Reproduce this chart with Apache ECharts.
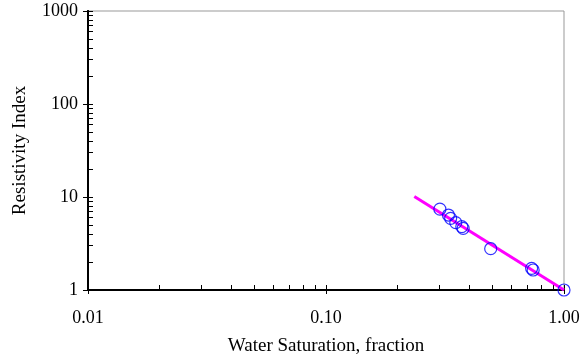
<!DOCTYPE html>
<html>
<head>
<meta charset="utf-8">
<script src="https://cdn.jsdelivr.net/npm/echarts@6/dist/echarts.min.js"></script>
<style>
  html, body { margin: 0; padding: 0; background: #fff; }
  #chart { width: 583px; height: 357px; }
</style>
</head>
<body>
<div id="chart"></div>
<script>
// measured points (water saturation vs resistivity index)
const swData = [0.301, 0.327, 0.334, 0.351, 0.372, 0.377, 0.492, 0.731, 0.742, 1.0];
const riData = [7.4, 6.4, 5.9, 5.3, 4.8, 4.6, 2.78, 1.71, 1.64, 1.0];

// fitted line end points
const fitSw = [0.235, 1.0];
const fitRi = [10.1, 1.0];

// tick labels
const xMajor = [0.01, 0.1, 1];
const yMajor = [1, 10, 100, 1000];

// minor ticks 2..9 in every decade
function minors(majors) {
  const out = [];
  for (let i = 0; i < majors.length - 1; i++) {
    for (let k = 2; k <= 9; k++) out.push(+(majors[i] * k).toPrecision(3));
  }
  return out;
}
const xMinor = minors(xMajor);
const yMinor = minors(yMajor);

const font = "Liberation Serif";
const axisCommon = {
  type: "log",
  logBase: 10,
  axisLine: { onZero: false, lineStyle: { color: "#000", width: 2 } },
  splitLine: { show: false },
  minorTick: { show: false }
};

const chart = echarts.init(document.getElementById("chart"));
chart.setOption({
  animation: false,
  grid: {
    left: 88, right: 19, top: 11, bottom: 67,
    outerBoundsMode: "none", containLabel: false,
    show: true, borderColor: "#999", borderWidth: 1
  },
  xAxis: [
    Object.assign({}, axisCommon, {
      min: 0.01, max: 1, position: "bottom",
      name: "Water Saturation, fraction",
      nameLocation: "middle", nameGap: 47,
      nameTextStyle: { fontFamily: font, fontSize: 19, color: "#000" },
      axisTick: { show: true, inside: true, length: 5, customValues: xMinor.concat(xMajor), lineStyle: { color: "#000" } },
      axisLabel: {
        fontFamily: font, fontSize: 18, color: "#000", margin: 19,
        customValues: xMajor,
        formatter: v => Number(v).toFixed(2)
      }
    }),
    Object.assign({}, axisCommon, {
      min: 0.01, max: 1, position: "bottom",
      axisTick: { show: true, inside: false, length: 4, customValues: xMajor, lineStyle: { color: "#000" } },
      axisLabel: { show: false }
    })
  ],
  yAxis: [
    Object.assign({}, axisCommon, {
      min: 1, max: 1000, position: "left",
      name: "Resistivity Index",
      nameLocation: "middle", nameGap: 58,
      nameTextStyle: { fontFamily: font, fontSize: 19, color: "#000" },
      axisTick: { show: true, inside: true, length: 5, customValues: yMinor.concat(yMajor), lineStyle: { color: "#000" } },
      axisLabel: {
        fontFamily: font, fontSize: 18, color: "#000", margin: 10,
        customValues: yMajor,
        formatter: v => String(Math.round(v))
      }
    }),
    Object.assign({}, axisCommon, {
      min: 1, max: 1000, position: "left",
      axisTick: { show: true, inside: false, length: 5, customValues: yMajor, lineStyle: { color: "#000" } },
      axisLabel: { show: false }
    })
  ],
  series: [
    {
      type: "line",
      data: fitSw.map((x, i) => [x, fitRi[i]]),
      showSymbol: false,
      lineStyle: { color: "#ff00ff", width: 3 },
      z: 2
    },
    {
      type: "scatter",
      data: swData.map((x, i) => [x, riData[i]]),
      symbol: "circle",
      symbolSize: 12,
      itemStyle: { color: "rgba(0,0,0,0)", borderColor: "#0000ff", borderWidth: 1.2 },
      z: 3
    }
  ]
});
</script>
</body>
</html>
